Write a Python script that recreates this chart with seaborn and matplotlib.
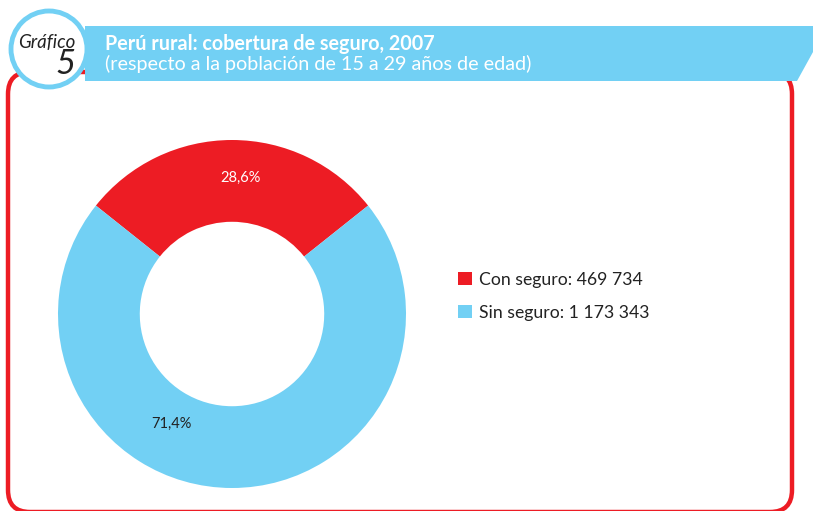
import matplotlib
matplotlib.use("Agg")
import matplotlib.pyplot as plt
import seaborn as sns
from matplotlib.patches import FancyBboxPatch, Polygon, Circle

# data
categorias = ["Con seguro", "Sin seguro"]
poblacion = [469734, 1173343]
etiquetas_pct = ["28,6%", "71,4%"]
leyenda = ["Con seguro: 469 734", "Sin seguro: 1 173 343"]
colores = ["#ED1C24", "#72D0F4"]

sns.set_theme(style="white")
plt.rcParams["font.family"] = ["Lato", "DejaVu Sans"]

W, H = 813, 511
fig = plt.figure(figsize=(W / 100, H / 100), dpi=100)

# overlay in pixel coords for the frame and header
bg = fig.add_axes([0, 0, 1, 1])
bg.set_xlim(0, W)
bg.set_ylim(H, 0)
bg.axis("off")

frame = FancyBboxPatch((8, 72), 784, 440, boxstyle="round,pad=0,rounding_size=22",
                       fc="none", ec="#ED1C24", lw=3.2)
bg.add_patch(frame)

banner = Polygon([(85, 26), (813, 26), (813, 52), (797, 81), (85, 81)],
                 closed=True, fc="#72D0F4", ec="none")
bg.add_patch(banner)
bg.add_patch(Circle((49, 49), 38, fc="white", ec="#72D0F4", lw=3.5, zorder=3))
bg.text(47, 42, "Gráfico", style="italic", fontsize=13.5, color="#222222",
        ha="center", va="center", zorder=4)
bg.text(66, 64, "5", style="italic", fontsize=25, color="#222222",
        ha="center", va="center", zorder=4)
bg.text(105, 44, "Perú rural: cobertura de seguro, 2007", fontsize=14.2,
        fontweight="bold", color="white", va="center")
bg.text(105, 64, "(respecto a la población de 15 a 29 años de edad)", fontsize=14.2,
        color="white", va="center")

# donut
ax = fig.add_axes([58 / W, 1 - 488 / H, 348 / W, 348 / H])
pct = [p / sum(poblacion) * 100 for p in poblacion]
start = 90 - pct[0] / 100 * 360 / 2
wedges, _ = ax.pie(poblacion, colors=colores, startangle=start, counterclock=True,
                   radius=1, wedgeprops=dict(width=0.47, edgecolor="none"))
ax.set_xlim(-1, 1)
ax.set_ylim(-1, 1)
ax.set_aspect("equal")

ax.text(0.05, 0.78, etiquetas_pct[0], color="white", fontsize=10.5, ha="center", va="center")
ax.text(-0.35, -0.63, etiquetas_pct[1], color="#222222", fontsize=10.5, ha="center", va="center")

fig.legend(wedges, leyenda, loc="upper left", bbox_to_anchor=(442 / W, 1 - 256 / H),
           frameon=False, fontsize=12.7, handlelength=0.8, handleheight=0.8,
           handletextpad=0.4, labelspacing=0.95, labelcolor="#222222")

fig.savefig("out.png", dpi=100)
